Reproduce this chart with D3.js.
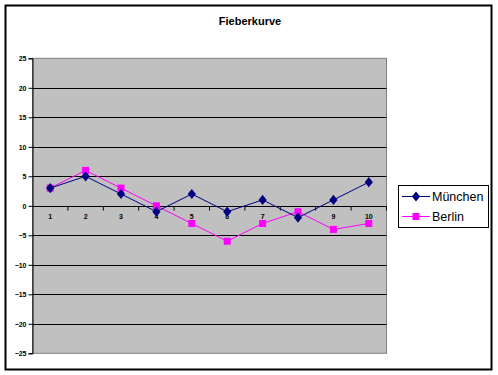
<!DOCTYPE html>
<html><head><meta charset="utf-8">
<script src="https://cdn.jsdelivr.net/npm/d3@7"></script>
<style>body{margin:0;background:#fff}svg{display:block}</style>
</head><body>
<script>
const title = "Fieberkurve";
const categories = ["1","2","3","4","5","6","7","8","9","10"];
const muenchen = [3, 5, 2, -1, 2, -1, 1, -2, 1, 4];
const berlin = [3, 6, 3, 0, -3, -6, -3, -1, -4, -3];
const seriesNames = ["München", "Berlin"];
const yTicks = [25, 20, 15, 10, 5, 0, -5, -10, -15, -20, -25];

const W = 498, H = 375;
const svg = d3.select("body").append("svg").attr("width", W).attr("height", H);

// outer frame
svg.append("rect").attr("x", 5.5).attr("y", 5.5).attr("width", 486).attr("height", 364)
  .attr("fill", "#fff").attr("stroke", "#000").attr("stroke-width", 2);

svg.append("text").attr("x", 250).attr("y", 25).attr("text-anchor", "middle")
  .attr("font-family", "Liberation Sans, Arial, sans-serif").attr("font-size", 11).attr("font-weight", "bold")
  .text(title);

const L = 32.5, R = 386.5, T = 58.3, B = 353.3;
const x = d3.scaleBand().domain(categories).range([L, R]);
const y = d3.scaleLinear().domain([-25, 25]).range([B, T]);

svg.append("rect").attr("x", L).attr("y", T).attr("width", R - L).attr("height", B - T)
  .attr("fill", "#c0c0c0").attr("stroke", "#808080").attr("stroke-width", 1);

// gridlines
svg.append("g").selectAll("line").data(yTicks.filter(v => v !== 25 && v !== -25)).join("line")
  .attr("x1", L).attr("x2", R).attr("y1", d => Math.round(y(d)) + 0.5).attr("y2", d => Math.round(y(d)) + 0.5)
  .attr("stroke", "#000").attr("stroke-width", 1);

// y axis
const yAxis = d3.axisLeft(y).tickValues(yTicks).tickSize(4).tickFormat(d3.format("d"));
const gy = svg.append("g").attr("transform", `translate(${L},0)`).call(yAxis);
gy.select(".domain").attr("stroke", "#000");
gy.selectAll(".tick text").attr("font-family", "Liberation Sans, Arial, sans-serif")
  .attr("font-size", 7).attr("font-weight", "bold").attr("fill", "#000").attr("x", -6);

// x axis at y = 0
const xAxis = d3.axisBottom(x).tickSize(0);
const gx = svg.append("g").attr("transform", `translate(0,${Math.round(y(0)) + 0.5})`).call(xAxis);
gx.select(".domain").remove();
gx.selectAll(".tick text").attr("font-family", "Liberation Sans, Arial, sans-serif")
  .attr("font-size", 7).attr("font-weight", "bold").attr("fill", "#000").attr("y", 8);
svg.append("line").attr("x1", L).attr("x2", R).attr("y1", Math.round(y(0)) + 0.5).attr("y2", Math.round(y(0)) + 0.5).attr("stroke", "#000");
svg.append("g").selectAll("line").data(categories.slice(1).concat(["end"])).join("line")
  .attr("x1", (d, i) => i < categories.length - 1 ? x(d) : R)
  .attr("x2", (d, i) => i < categories.length - 1 ? x(d) : R)
  .attr("y1", Math.round(y(0)) + 0.5).attr("y2", Math.round(y(0)) + 4.5)
  .attr("stroke", "#000");

const cx = (d, i) => x(categories[i]) + x.bandwidth() / 2;
const line = d3.line().x(cx).y(d => y(d));

// Berlin
svg.append("path").datum(berlin).attr("d", line).attr("fill", "none").attr("stroke", "#ff00ff").attr("stroke-width", 1);
svg.append("g").selectAll("rect").data(berlin).join("rect")
  .attr("x", (d, i) => cx(d, i) - 3.5).attr("y", d => y(d) - 3.5).attr("width", 7).attr("height", 7)
  .attr("fill", "#ff00ff");

// München
svg.append("path").datum(muenchen).attr("d", line).attr("fill", "none").attr("stroke", "#000080").attr("stroke-width", 1);
const diamond = d3.symbol().type(d3.symbolDiamond).size(30);
svg.append("g").selectAll("path").data(muenchen).join("path")
  .attr("transform", (d, i) => `translate(${cx(d, i)},${y(d)}) scale(1.4,1)`)
  .attr("d", diamond).attr("fill", "#000080");

// legend
const lg = svg.append("g");
lg.append("rect").attr("x", 398.5).attr("y", 185.5).attr("width", 90).attr("height", 42)
  .attr("fill", "#fff").attr("stroke", "#000").attr("stroke-width", 1);
const colors = ["#000080", "#ff00ff"];
seriesNames.forEach((n, i) => {
  const yy = 196.5 + i * 20;
  lg.append("line").attr("x1", 402).attr("x2", 430).attr("y1", yy).attr("y2", yy).attr("stroke", colors[i]);
  if (i === 0) {
    lg.append("path").attr("d", diamond).attr("transform", `translate(416,${yy}) scale(1.4,1)`).attr("fill", colors[i]);
  } else {
    lg.append("rect").attr("x", 412.5).attr("y", yy - 3.5).attr("width", 7).attr("height", 7).attr("fill", colors[i]);
  }
  lg.append("text").attr("x", 432).attr("y", yy + 4.5)
    .attr("font-family", "Liberation Sans, Arial, sans-serif").attr("font-size", 12.5).attr("fill", "#000").text(n);
});
</script>
</body></html>
